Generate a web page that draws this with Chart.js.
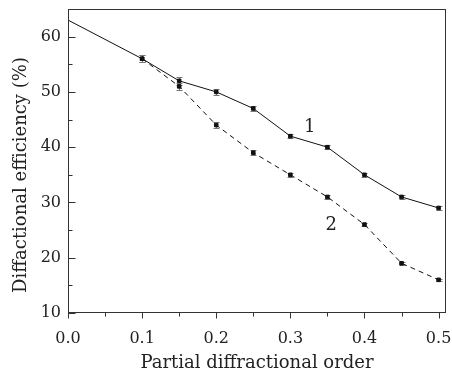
<!DOCTYPE html>
<html>
<head>
<meta charset="utf-8">
<script src="https://cdn.jsdelivr.net/npm/chart.js@4"></script>
<style>
html, body { margin: 0; padding: 0; background: #fff; }
#wrap { width: 452px; height: 374px; }
</style>
</head>
<body>
<div id="wrap"><canvas id="myChart"></canvas></div>
<script>
// data
var order = [0.1, 0.15, 0.2, 0.25, 0.3, 0.35, 0.4, 0.45, 0.5];
var curve1 = [56, 52, 50, 47, 42, 40, 35, 31, 29];
var curve2 = [56, 51, 44, 39, 35, 31, 26, 19, 16];
var err1 = [0.6, 0.7, 0.6, 0.5, 0.4, 0.4, 0.4, 0.4, 0.4];
var err2 = [0.6, 0.7, 0.6, 0.4, 0.4, 0.3, 0.3, 0.3, 0.2];
var startOrder = 0;      // curve 1 starts at the axis
var startEff = 63;
var xTicks = [0, 0.1, 0.2, 0.3, 0.4, 0.5];
var yTicks = [10, 20, 30, 40, 50, 60];
var curveNames = ['1', '2'];
var namePos = [[0.326, 43.6], [0.355, 25.8]];
var yTitle = 'Diffactional efficiency (%)';

var FONT = "'DejaVu Serif', 'Liberation Serif', serif";
Chart.defaults.font.family = FONT;
Chart.defaults.color = '#222';

var pts1 = [{x: startOrder, y: startEff}];
var pts2 = [];
for (var i = 0; i < order.length; i++) {
    pts1.push({x: order[i], y: curve1[i]});
    pts2.push({x: order[i], y: curve2[i]});
}
var radius1 = pts1.map(function(p, i) { return i === 0 ? 0 : 2.5; });

var decor = {
    id: 'decor',
    beforeDatasetsDraw: function(chart) {
        var ctx = chart.ctx, xs = chart.scales.x, ys = chart.scales.y;
        ctx.save();
        ctx.strokeStyle = '#777';
        ctx.lineWidth = 1;
        var sets = [[curve1, err1], [curve2, err2]];
        sets.forEach(function(s) {
            for (var i = 0; i < order.length; i++) {
                var px = Math.round(xs.getPixelForValue(order[i])) + 0.5;
                var t = Math.round(ys.getPixelForValue(s[0][i] + s[1][i])) + 0.5;
                var b = Math.round(ys.getPixelForValue(s[0][i] - s[1][i])) + 0.5;
                ctx.beginPath();
                ctx.moveTo(px, t); ctx.lineTo(px, b);
                ctx.moveTo(px - 3, t); ctx.lineTo(px + 3, t);
                ctx.moveTo(px - 3, b); ctx.lineTo(px + 3, b);
                ctx.stroke();
            }
        });
        ctx.restore();
    },
    afterDraw: function(chart) {
        var ctx = chart.ctx, xs = chart.scales.x, ys = chart.scales.y, a = chart.chartArea;
        ctx.save();
        ctx.strokeStyle = '#333';
        ctx.lineWidth = 1;
        var L = Math.round(a.left) + 0.5, R = Math.round(a.right) - 0.5;
        var T = Math.round(a.top) + 0.5, B = Math.round(a.bottom) - 0.5;
        ctx.strokeRect(L, T, R - L, B - T);
        ctx.beginPath();
        // x ticks point outward
        for (var v = 0; v <= 0.5001; v += 0.05) {
            var px = Math.round(xs.getPixelForValue(v)) + 0.5;
            var major = Math.abs(v * 10 - Math.round(v * 10)) < 1e-6;
            ctx.moveTo(px, B); ctx.lineTo(px, B + (major ? 6 : 4));
        }
        // y ticks point inward
        for (var y = 10; y <= 60; y += 5) {
            var py = Math.round(ys.getPixelForValue(y)) + 0.5;
            ctx.moveTo(L, py); ctx.lineTo(L + (y % 10 === 0 ? 7 : 4), py);
        }
        ctx.stroke();
        ctx.fillStyle = '#222';
        ctx.font = '18px ' + FONT;
        ctx.textAlign = 'center';
        ctx.textBaseline = 'middle';
        for (var k = 0; k < curveNames.length; k++) {
            ctx.fillText(curveNames[k], xs.getPixelForValue(namePos[k][0]), ys.getPixelForValue(namePos[k][1]));
        }
        // y axis title, sits a little below the axis centre in the figure
        ctx.translate(21, 175);
        ctx.rotate(-Math.PI / 2);
        ctx.fillText(yTitle, 0, 0);
        ctx.restore();
    }
};

var ctx = document.getElementById('myChart').getContext('2d');
var myChart = new Chart(ctx, {
    type: 'scatter',
    data: {
        datasets: [{
            data: pts1,
            showLine: true,
            borderColor: '#111',
            backgroundColor: '#111',
            borderWidth: 1,
            pointStyle: 'rect',
            pointRadius: radius1
        }, {
            data: pts2,
            showLine: true,
            borderColor: '#111',
            backgroundColor: '#111',
            borderWidth: 1,
            borderDash: [5, 4],
            pointStyle: 'rect',
            pointRadius: 2.5
        }]
    },
    options: {
        responsive: true,
        maintainAspectRatio: false,
        animation: false,
        layout: { padding: { top: 9, right: 6, left: 0, bottom: 0 } },
        plugins: { legend: { display: false }, tooltip: { enabled: false } },
        scales: {
            x: {
                type: 'linear',
                min: 0,
                max: 0.51,
                afterBuildTicks: function(s) { s.ticks = xTicks.map(function(v) { return {value: v}; }); },
                afterFit: function(s) { s.height = 61; s.paddingLeft = 0; s.paddingRight = 0; },
                grid: { display: false, drawTicks: false },
                border: { display: false },
                ticks: {
                    padding: 16,
                    maxRotation: 0,
                    font: { size: 16 },
                    callback: function(v) { return v.toFixed(1); }
                },
                title: {
                    display: true,
                    text: 'Partial diffractional order',
                    font: { size: 18 },
                    padding: { top: 0, bottom: 0 }
                }
            },
            y: {
                min: 10,
                max: 65,
                afterBuildTicks: function(s) { s.ticks = yTicks.map(function(v) { return {value: v}; }); },
                afterFit: function(s) { s.width = 68; s.paddingTop = 0; s.paddingBottom = 0; },
                grid: { display: false, drawTicks: false },
                border: { display: false },
                ticks: { padding: 7, font: { size: 16 } },
                title: { display: false }
            }
        }
    },
    plugins: [decor]
});
</script>
</body>
</html>
